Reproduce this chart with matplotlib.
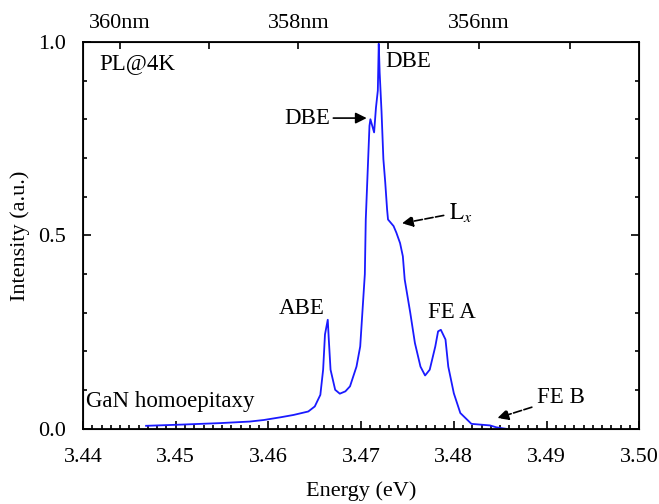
import matplotlib
matplotlib.use('Agg')
import matplotlib.pyplot as plt
import numpy as np
from matplotlib.ticker import MultipleLocator, FixedLocator

plt.rcParams['font.family'] = ['Liberation Serif', 'DejaVu Serif']
plt.rcParams['mathtext.fontset'] = 'stix'

# PL spectrum
energy = [3.4468, 3.4505, 3.4548, 3.4580, 3.4595, 3.4613, 3.4627, 3.4643, 3.4650,
          3.4656, 3.4659, 3.4661, 3.4664, 3.4665, 3.4667, 3.4672, 3.4677, 3.4683,
          3.4688, 3.4695, 3.4699, 3.4704, 3.4705, 3.4707, 3.4709, 3.4710, 3.4714,
          3.4716, 3.4718, 3.4719, 3.4720, 3.4722, 3.4724, 3.4726, 3.4728, 3.4729,
          3.4735, 3.4738, 3.4742, 3.4745, 3.4747, 3.4753, 3.4758, 3.4764, 3.4769,
          3.4774, 3.4780, 3.4783, 3.4786, 3.4791, 3.4794, 3.4800, 3.4807, 3.4819,
          3.4839, 3.4846, 3.4857]
intensity = [0.008, 0.011, 0.015, 0.019, 0.023, 0.030, 0.036, 0.045, 0.058,
             0.088, 0.153, 0.244, 0.282, 0.236, 0.153, 0.101, 0.091, 0.097,
             0.110, 0.161, 0.213, 0.400, 0.541, 0.662, 0.783, 0.800, 0.766,
             0.830, 0.874, 0.995, 0.920, 0.820, 0.697, 0.637, 0.567, 0.541,
             0.524, 0.507, 0.480, 0.446, 0.386, 0.300, 0.222, 0.161, 0.138,
             0.153, 0.213, 0.252, 0.256, 0.231, 0.161, 0.092, 0.041, 0.013,
             0.009, 0.004, 0.000]

x_ticks = [3.44, 3.45, 3.46, 3.47, 3.48, 3.49, 3.50]
y_ticks = [0.0, 0.5, 1.0]
nm_labelled = [360, 358, 356]
nm_minor = [359, 357, 355]
hc = 1239.84  # eV*nm

fig = plt.figure(figsize=(6.59, 5.04), dpi=100)
ax = fig.add_axes([0.126, 0.149, 0.844, 0.768])

ax.plot(energy, intensity, color='#1a1aff', lw=1.3)

ax.set_xlim(3.44, 3.50)
ax.set_ylim(0.0, 1.0)
ax.set_xticks(x_ticks)
ax.set_xticklabels(['%.2f' % v for v in x_ticks])
ax.set_yticks(y_ticks)
ax.set_yticklabels(['%.1f' % v for v in y_ticks])
ax.xaxis.set_minor_locator(MultipleLocator(0.001))
ax.yaxis.set_minor_locator(MultipleLocator(0.1))
ax.tick_params(which='both', direction='in', right=True, labelsize=16, width=1.2)
ax.tick_params(axis='x', which='both', top=False, pad=14)
ax.tick_params(axis='y', which='both', pad=12)
ax.tick_params(which='major', length=6)
ax.tick_params(which='minor', length=3)
for s in ax.spines.values():
    s.set_linewidth(1.3)

ax.set_xlabel('Energy (eV)', fontsize=16, labelpad=10)
ax.set_ylabel('Intensity (a.u.)', fontsize=16, labelpad=6)

# wavelength axis on top
top = ax.twiny()
top.set_xlim(ax.get_xlim())
top.xaxis.set_major_locator(FixedLocator([hc / w for w in nm_labelled]))
top.xaxis.set_minor_locator(FixedLocator([hc / w for w in nm_minor]))
top.set_xticklabels(['%dnm' % w for w in nm_labelled])
top.tick_params(which='both', direction='in', labelsize=16, width=1.2, pad=6)
top.tick_params(which='both', length=5)

fs = 16.5
ax.text(3.4418, 0.943, 'PL@4K', fontsize=fs, ha='left', va='center')
ax.text(3.4726, 0.948, 'DBE', fontsize=fs, ha='left', va='center')
ax.annotate('DBE', xy=(3.4706, 0.803), xytext=(3.4667, 0.803), fontsize=fs,
            ha='right', va='center',
            arrowprops=dict(arrowstyle='-|>', color='black', lw=1.2, shrinkA=0, shrinkB=0))
ax.annotate(r'$\mathrm{L}_x$', xy=(3.4744, 0.531), xytext=(3.4795, 0.56), fontsize=fs,
            ha='left', va='center',
            arrowprops=dict(arrowstyle='-|>', color='black', lw=1.2, shrinkA=2, shrinkB=0,
                            linestyle=(0, (5, 1.5))))
ax.text(3.4636, 0.311, 'ABE', fontsize=fs, ha='center', va='center')
ax.text(3.4798, 0.300, 'FE A', fontsize=fs, ha='center', va='center')
ax.text(3.4403, 0.070, 'GaN homoepitaxy', fontsize=fs, ha='left', va='center')
ax.annotate('FE B', xy=(3.4847, 0.028), xytext=(3.4890, 0.080), fontsize=fs,
            ha='left', va='center',
            arrowprops=dict(arrowstyle='-|>', color='black', lw=1.2, shrinkA=2, shrinkB=0,
                            linestyle=(0, (5, 1.5))))

fig.savefig('out.png', dpi=100)
